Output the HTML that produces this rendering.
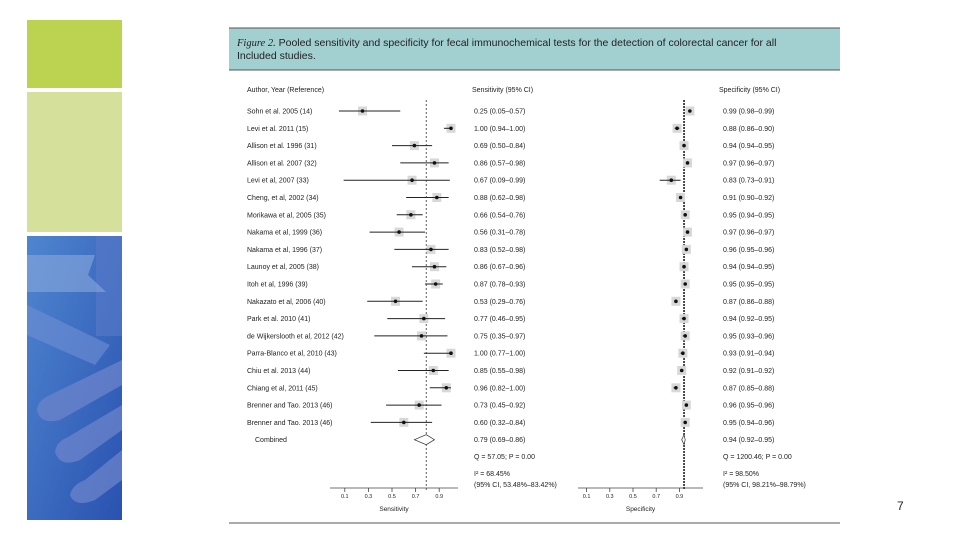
<!DOCTYPE html>
<html><head><meta charset="utf-8"><style>
body{margin:0;width:960px;height:540px;background:#fff;overflow:hidden;font-family:"Liberation Sans",sans-serif}
svg{position:absolute;left:0;top:0}
text{font-family:"Liberation Sans",sans-serif;fill:#222}
</style></head><body>
<svg width="960" height="540">
<defs><linearGradient id="bg" x1="0" y1="0" x2="1" y2="1"><stop offset="0" stop-color="#4f86d0"/><stop offset="1" stop-color="#2a52b0"/></linearGradient></defs>
<rect x="27" y="20" width="95" height="68" fill="#bcd251"/>
<rect x="27" y="92" width="95" height="140" fill="#d5e09a"/>
<g>
<rect x="27" y="236" width="95" height="284" fill="url(#bg)"/>
<rect x="96" y="236" width="26" height="100" fill="#5a7ac8" opacity="0.6"/>
<path d="M27 255 L95 255 L88 275 L106 292 L27 292Z" fill="#8aa8dc" opacity="0.6"/>
<path d="M27 305 L110 345 L95 365 L27 335Z" fill="#6f90d4" opacity="0.6"/>
<path d="M122 360 L122 385 L60 420 Q40 425 37 410 Q38 400 50 395Z" fill="#6f86cc" opacity="0.7"/>
<path d="M122 405 L122 430 L80 460 Q60 468 55 452 Q56 442 68 437Z" fill="#6f86cc" opacity="0.7"/>
<path d="M122 450 L122 480 L95 500 Q75 508 70 495 Q72 485 85 480Z" fill="#6f86cc" opacity="0.7"/>
</g>
<rect x="229" y="28" width="611" height="42" fill="#a2cfd0"/>
<line x1="229" y1="28" x2="840" y2="28" stroke="#555" stroke-width="1"/>
<line x1="229" y1="70" x2="840" y2="70" stroke="#555" stroke-width="1"/>
<text x="237" y="46" font-size="10.5"><tspan font-style="italic" font-family="Liberation Serif">Figure 2.</tspan> Pooled sensitivity and specificity for fecal immunochemical tests for the detection of colorectal cancer for all</text>
<text x="237" y="59" font-size="10.5">Included studies.</text>
<text x="247" y="92" font-size="7">Author, Year (Reference)</text>
<text x="472" y="92" font-size="7">Sensitivity (95% CI)</text>
<text x="719" y="92" font-size="7">Specificity (95% CI)</text>
<g id="plot"></g>
<line x1="229" y1="523" x2="840" y2="523" stroke="#555"/>
<text x="897" y="510" font-size="12">7</text>
</svg>
<script>
const studies=["Sohn et al. 2005 (14)","Levi et al. 2011 (15)","Allison et al. 1996 (31)","Allison et al. 2007 (32)","Levi et al, 2007 (33)","Cheng, et al, 2002 (34)","Morikawa et al, 2005 (35)","Nakama et al, 1999 (36)","Nakama et al, 1996 (37)","Launoy et al, 2005 (38)","Itoh et al, 1996 (39)","Nakazato et al, 2006 (40)","Park et al. 2010 (41)","de Wijkerslooth et al, 2012 (42)","Parra-Blanco et al, 2010 (43)","Chiu et al. 2013 (44)","Chiang et al, 2011 (45)","Brenner and Tao. 2013 (46)","Brenner and Tao. 2013 (46)"];
const sens=[0.25,1.00,0.69,0.86,0.67,0.88,0.66,0.56,0.83,0.86,0.87,0.53,0.77,0.75,1.00,0.85,0.96,0.73,0.60];
const sensLo=[0.05,0.94,0.50,0.57,0.09,0.62,0.54,0.31,0.52,0.67,0.78,0.29,0.46,0.35,0.77,0.55,0.82,0.45,0.32];
const sensHi=[0.57,1.00,0.84,0.98,0.99,0.98,0.76,0.78,0.98,0.96,0.93,0.76,0.95,0.97,1.00,0.98,1.00,0.92,0.84];
const spec=[0.99,0.88,0.94,0.97,0.83,0.91,0.95,0.97,0.96,0.94,0.95,0.87,0.94,0.95,0.93,0.92,0.87,0.96,0.95];
const specLo=[0.98,0.86,0.94,0.96,0.73,0.90,0.94,0.96,0.95,0.94,0.95,0.86,0.92,0.93,0.91,0.91,0.85,0.95,0.94];
const specHi=[0.99,0.90,0.95,0.97,0.91,0.92,0.95,0.97,0.96,0.95,0.95,0.88,0.95,0.96,0.94,0.92,0.88,0.96,0.96];
const pooledSens=[0.79,0.69,0.86];
const pooledSpec=[0.94,0.92,0.95];
const ticks=[0.1,0.3,0.5,0.7,0.9];
const NS="http://www.w3.org/2000/svg";
const g=document.getElementById('plot');
const xs=v=>333+118*v, xp=v=>575+116*v, y=i=>111+17.3*i;
const f=v=>v.toFixed(2);
function mk(t,a,parent){const e=document.createElementNS(NS,t);for(const k in a)e.setAttribute(k,a[k]);(parent||g).appendChild(e);return e;}
function txt(x,yy,s,fs){const e=mk('text',{x:x,y:yy,'font-size':fs||7});e.textContent=s;return e;}
function marker(sc,v,lo,hi,yy,name){
  const grp=mk('g',{});
  
  
  mk('rect',{x:sc(v)-4.5,y:yy-4.5,width:9,height:9,fill:'#d8d8d8'},grp);
  mk('line',{x1:sc(lo),x2:sc(hi),y1:yy,y2:yy,stroke:'#222','stroke-width':1},grp);
  mk('circle',{cx:sc(v),cy:yy,r:1.8,fill:'#111'},grp);
}
// reference lines
let l=mk('line',{x1:xs(pooledSens[0]),x2:xs(pooledSens[0]),y1:100,y2:490,stroke:'#333','stroke-dasharray':'2,2','stroke-width':0.8});


l=mk('line',{x1:xp(pooledSpec[0]),x2:xp(pooledSpec[0]),y1:100,y2:490,stroke:'#111','stroke-dasharray':'2,1','stroke-width':1.5});


studies.forEach((s,i)=>{
  const yy=y(i);
  let t=txt(247,yy+2.5,s);
  
  
  marker(xs,sens[i],sensLo[i],sensHi[i],yy,'sensitivity-marker');
  marker(xp,spec[i],specLo[i],specHi[i],yy,'specificity-marker');
  t=txt(474,yy+2.5,f(sens[i])+' ('+f(sensLo[i])+'–'+f(sensHi[i])+')');
  
  
  t=txt(723,yy+2.5,f(spec[i])+' ('+f(specLo[i])+'–'+f(specHi[i])+')');
  
  
});
const yc=y(studies.length);
let t=txt(255,yc+2.5,'Combined');


let d=mk('path',{d:`M${xs(pooledSens[1])} ${yc} L${xs(pooledSens[0])} ${yc-5} L${xs(pooledSens[2])} ${yc} L${xs(pooledSens[0])} ${yc+5}Z`,fill:'#fff',stroke:'#333','stroke-width':0.7});


d=mk('path',{d:`M${xp(pooledSpec[1])} ${yc} L${xp(pooledSpec[0])} ${yc-5} L${xp(pooledSpec[2])} ${yc} L${xp(pooledSpec[0])} ${yc+5}Z`,fill:'#fff',stroke:'#333','stroke-width':0.7});


t=txt(474,yc+2.5,f(pooledSens[0])+' ('+f(pooledSens[1])+'–'+f(pooledSens[2])+')');


t=txt(723,yc+2.5,f(pooledSpec[0])+' ('+f(pooledSpec[1])+'–'+f(pooledSpec[2])+')');


const stats=[[474,'Q = 57.05; P = 0.00','I² = 68.45%','(95% CI, 53.48%–83.42%)'],[723,'Q = 1200.46; P = 0.00','I² = 98.50%','(95% CI, 98.21%–98.79%)']];
stats.forEach(s=>{
  let a=txt(s[0],459,s[1]);
  a=txt(s[0],476,s[2]);
  a=txt(s[0],487,s[3]);
});
// axes
[[xs,330,458,'Sensitivity','sensitivity-axis'],[xp,578,703,'Specificity','specificity-axis']].forEach(a=>{
  const ax=mk('g',{});
  
  
  mk('line',{x1:a[1],x2:a[2],y1:488,y2:488,stroke:'#444','stroke-width':0.8},ax);
  ticks.forEach(v=>{
    mk('line',{x1:a[0](v),x2:a[0](v),y1:488,y2:492,stroke:'#444','stroke-width':0.8},ax);
    const tt=mk('text',{x:a[0](v),y:498,'font-size':5.5,'text-anchor':'middle',fill:'#555'},ax);tt.textContent=String(v);
  });
  const tl=mk('text',{x:(a[1]+a[2])/2,y:511,'font-size':6.5,'text-anchor':'middle'},ax);tl.textContent=a[3];
});
</script>
</body></html>
